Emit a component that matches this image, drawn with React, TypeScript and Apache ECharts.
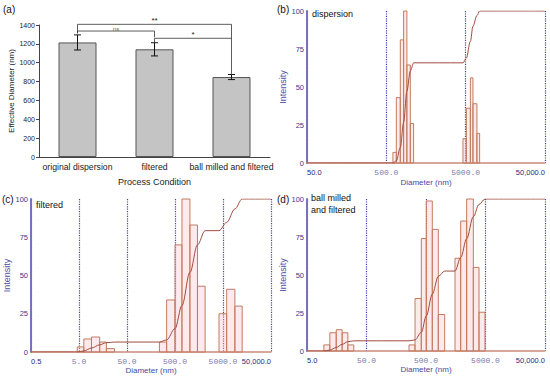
import React, { useEffect, useRef } from 'react';
import * as echarts from 'echarts';

// ---------- Panel (a) ----------
const conditions = ['original dispersion', 'filtered', 'ball milled and filtered'];
const meanDiameter = [1215, 1142, 848];
const diameterError = [80, 70, 27];
const sigFrom = [0, 0, 1];
const sigTo = [2, 1, 2];
const sigLevel = [1407, 1336, 1259];
const sigLegFrom = [1312, 1312, 1212];
const sigLegTo = [870, 1270, 1259];
const sigLabel = ['**', 'ns', '*'];

// ---------- Panel (b) dispersion ----------
const bTickLabels = ['50.0', '500.0', '5000.0', '50,000.0'];
const bBinLeft = [605, 668, 750, 826, 908, 1003, 4624, 5100, 5730, 6180, 6930];
const bBinRight = [668, 750, 826, 908, 1003, 1104, 5100, 5730, 6180, 6930, 7500];
const bIntensity = [7, 43, 81, 100, 64.5, 26, 16, 36, 56, 39, 19.5];
const bCumDiameter = [50, 605, 668, 750, 826, 908, 1003, 1104, 4624, 5100, 5730, 6180, 6930, 7500, 50000];
const bCumValue = [0, 0, 1.4, 10.2, 26.8, 47.3, 60.5, 65.9, 65.9, 69, 80, 90, 97, 100, 100];

// ---------- Panel (c) filtered ----------
const cTickLabels = ['0.5', '5.0', '50.0', '500.0', '5000.0', '50,000.0'];
const cBinLeft = [4.6, 6.3, 9.1, 13.5, 18.6, 237, 335, 500, 698, 1023, 1469, 4130, 5960, 8850];
const cBinRight = [6.3, 9.1, 13.5, 18.6, 27.5, 335, 500, 698, 1023, 1469, 2120, 5960, 8850, 12540];
const cIntensity = [3.3, 8.5, 9.8, 6.5, 2.2, 6.5, 34, 70, 100, 83, 43, 25, 41, 30];
const cCumDiameter = [0.5, 4.6, 6.3, 9.1, 13.5, 18.6, 27.5, 237, 335, 500, 698, 1023, 1469, 2120, 4130, 5960, 8850, 12540, 50000];
const cCumValue = [0, 0, 0.7, 2.6, 4.7, 6.1, 6.5, 6.5, 7.9, 15.3, 30.4, 52, 70, 79.3, 79.3, 84.7, 93.5, 100, 100];

// ---------- Panel (d) ball milled and filtered ----------
const dTickLabels = ['5.0', '50.0', '500.0', '5000.0', '50,000.0'];
const dBinLeft = [9.6, 12.1, 15.5, 19.5, 24.3, 259, 327, 417, 506, 638, 805, 1535, 1915, 2414, 3120, 3890];
const dBinRight = [12.1, 15.5, 19.5, 24.3, 30.6, 327, 417, 506, 638, 805, 1031, 1915, 2414, 3120, 3890, 4910];
const dIntensity = [4, 12, 14, 12, 4, 4, 34.5, 74, 98.7, 80, 24, 61, 85.5, 100, 55, 25.5];
const dCumDiameter = [5, 9.6, 12.1, 15.5, 19.5, 24.3, 30.6, 259, 327, 417, 506, 638, 805, 1031, 1535, 1915, 2414, 3120, 3890, 4910, 50000];
const dCumValue = [0, 0, 0.6, 2.3, 4.4, 6.1, 6.7, 6.7, 7.3, 12.3, 23.1, 37.4, 49.1, 52.6, 52.6, 61.5, 73.9, 88.4, 96.4, 100, 100];

const SANS = 'Liberation Sans, Arial, sans-serif';
const lx = (d: number, base: number) => Math.log10(d / base);

function distXAxis(gridIndex: number, labels: string[], nameGap: number) {
  const n = labels.length - 1;
  return {
    type: 'value',
    gridIndex,
    min: 0,
    max: n,
    interval: 1,
    axisLine: { show: true, onZero: false, lineStyle: { color: '#c98b7a', width: 1.5 } },
    axisTick: { show: false },
    splitLine: { show: true, lineStyle: { color: '#4040b0', type: 'dotted', width: 1.2 } },
    axisLabel: {
      margin: 5,
      showMinLabel: true,
      showMaxLabel: true,
      hideOverlap: false,
      alignMinLabel: 'left',
      alignMaxLabel: 'right',
      formatter: (v: number) => {
        const i = Math.round(v);
        const s = labels[i];
        return i === 0 || i === n ? `{s|${s}}` : `{m|${s}}`;
      },
      rich: {
        s: { fontFamily: 'Liberation Sans Narrow, ' + SANS, fontSize: 7.5, color: '#2b2b7a' },
        m: { fontFamily: 'Liberation Mono, DejaVu Sans Mono, monospace', fontSize: 8, color: '#7a7aa8' },
      },
    },
    name: 'Diameter (nm)',
    nameLocation: 'middle',
    nameGap,
    nameTextStyle: { color: '#4848a0', fontSize: 8, fontFamily: SANS },
  };
}

function distYAxis(gridIndex: number, nameGap: number) {
  return {
    type: 'value',
    gridIndex,
    min: 0,
    max: 100,
    interval: 25,
    axisLine: { show: true, lineStyle: { color: '#7a72b8', width: 2 } },
    axisTick: { show: false },
    splitLine: { show: false },
    axisLabel: { color: '#3a3a8a', fontSize: 7.5, margin: 3, fontFamily: SANS },
    name: 'Intensity',
    nameLocation: 'middle',
    nameGap,
    nameTextStyle: { color: '#5050a8', fontSize: 9, fontFamily: SANS },
  };
}

function histSeries(idx: number, left: number[], right: number[], vals: number[], base: number) {
  return {
    type: 'custom',
    xAxisIndex: idx,
    yAxisIndex: idx,
    data: left.map((l, i) => [lx(l, base), lx(right[i], base), vals[i]]),
    encode: { x: [0, 1], y: 2 },
    z: 3,
    renderItem: (_p: any, api: any) => {
      const p0 = api.coord([api.value(0), api.value(2)]);
      const p1 = api.coord([api.value(1), 0]);
      return {
        type: 'rect',
        shape: { x: p0[0], y: p0[1], width: p1[0] - p0[0], height: p1[1] - p0[1] },
        style: { fill: 'rgba(248,196,204,0.35)', stroke: '#c27b5e', lineWidth: 1 },
      };
    },
  };
}

function cumSeries(idx: number, ds: number[], vs: number[], base: number) {
  return {
    type: 'line',
    xAxisIndex: idx,
    yAxisIndex: idx,
    data: ds.map((d, i) => [lx(d, base), vs[i]]),
    smooth: 0.35,
    smoothMonotone: 'x',
    symbol: 'none',
    showSymbol: false,
    lineStyle: { color: '#a14c3f', width: 1 },
    z: 4,
  };
}

export default function App() {
  const ref = useRef<HTMLDivElement>(null);
  useEffect(() => {
    document.body.style.margin = '0';
    if (!ref.current) return;
    const chart = echarts.init(ref.current, null, { renderer: 'svg' });
    const option: any = {
      animation: false,
      backgroundColor: '#ffffff',
      grid: [
        { left: 39, top: 25, width: 231, height: 132 },
        { left: 307, top: 11, width: 238, height: 152 },
        { left: 31, top: 199, width: 240, height: 153 },
        { left: 307, top: 199, width: 238, height: 152 },
      ],
      xAxis: [
        {
          type: 'category',
          gridIndex: 0,
          data: conditions,
          axisLine: { lineStyle: { color: '#444' } },
          axisTick: { alignWithLabel: true, length: 3, lineStyle: { color: '#444' } },
          axisLabel: { color: '#222', fontSize: 8.7, margin: 5, interval: 0, fontFamily: SANS },
          name: 'Process Condition',
          nameLocation: 'middle',
          nameGap: 20,
          nameTextStyle: { color: '#222', fontSize: 9, fontFamily: SANS },
        },
        distXAxis(1, bTickLabels, 15),
        distXAxis(2, cTickLabels, 14),
        distXAxis(3, dTickLabels, 14),
      ],
      yAxis: [
        {
          type: 'value',
          gridIndex: 0,
          min: 0,
          max: 1400,
          interval: 200,
          axisLine: { show: true, lineStyle: { color: '#444' } },
          axisTick: { show: true, length: 3, lineStyle: { color: '#444' } },
          axisLabel: { color: '#222', fontSize: 7, margin: 4, fontFamily: SANS, formatter: (v: number) => String(v) },
          splitLine: { show: false },
          name: 'Effective Diameter (nm)',
          nameLocation: 'middle',
          nameGap: 23,
          nameTextStyle: { color: '#222', fontSize: 8, fontFamily: SANS },
        },
        distYAxis(1, 19),
        distYAxis(2, 17),
        distYAxis(3, 18.5),
      ],
      series: [
        {
          type: 'bar',
          xAxisIndex: 0,
          yAxisIndex: 0,
          data: meanDiameter,
          barWidth: 38,
          itemStyle: { color: '#c4c4c4', borderColor: '#555', borderWidth: 1 },
        },
        {
          type: 'custom',
          xAxisIndex: 0,
          yAxisIndex: 0,
          data: meanDiameter.map((m, i) => [i, m - diameterError[i], m + diameterError[i]]),
          encode: { x: 0, y: [1, 2] },
          z: 5,
          renderItem: (_p: any, api: any) => {
            const lo = api.coord([api.value(0), api.value(1)]);
            const hi = api.coord([api.value(0), api.value(2)]);
            const w = 3.5;
            const st = { stroke: '#111', lineWidth: 1 };
            return {
              type: 'group',
              children: [
                { type: 'line', shape: { x1: hi[0], y1: hi[1], x2: lo[0], y2: lo[1] }, style: st },
                { type: 'line', shape: { x1: hi[0] - w, y1: hi[1], x2: hi[0] + w, y2: hi[1] }, style: st },
                { type: 'line', shape: { x1: lo[0] - w, y1: lo[1], x2: lo[0] + w, y2: lo[1] }, style: st },
              ],
            };
          },
        },
        {
          type: 'custom',
          xAxisIndex: 0,
          yAxisIndex: 0,
          data: sigFrom.map((f, i) => [f, sigTo[i], sigLevel[i], sigLegFrom[i], sigLegTo[i]]),
          encode: { x: [0, 1], y: [2, 3, 4] },
          z: 6,
          renderItem: (p: any, api: any) => {
            const a = api.coord([api.value(0), api.value(3)]);
            const b = api.coord([api.value(0), api.value(2)]);
            const c = api.coord([api.value(1), api.value(2)]);
            const d = api.coord([api.value(1), api.value(4)]);
            const lab = sigLabel[p.dataIndex];
            const isNs = lab === 'ns';
            return {
              type: 'group',
              children: [
                { type: 'polyline', shape: { points: [a, b, c, d] }, style: { stroke: '#333', lineWidth: 0.8, fill: null } },
                {
                  type: 'text',
                  x: (b[0] + c[0]) / 2,
                  y: b[1] + (isNs ? 1 : 0),
                  style: {
                    text: lab,
                    textAlign: 'center',
                    textVerticalAlign: 'bottom',
                    fontSize: isNs ? 6 : 8,
                    fontFamily: SANS,
                    fill: isNs ? '#666' : '#222',
                  },
                },
              ],
            };
          },
        },
        histSeries(1, bBinLeft, bBinRight, bIntensity, 50),
        cumSeries(1, bCumDiameter, bCumValue, 50),
        histSeries(2, cBinLeft, cBinRight, cIntensity, 0.5),
        cumSeries(2, cCumDiameter, cCumValue, 0.5),
        histSeries(3, dBinLeft, dBinRight, dIntensity, 5),
        cumSeries(3, dCumDiameter, dCumValue, 5),
      ],
      graphic: [
        { type: 'text', left: 3, top: 4, style: { text: '(a)', fontSize: 10, fill: '#111', fontFamily: SANS } },
        { type: 'text', left: 277, top: 4, style: { text: '(b)', fontSize: 10, fill: '#111', fontFamily: SANS } },
        { type: 'text', left: 2, top: 194, style: { text: '(c)', fontSize: 10, fill: '#111', fontFamily: SANS } },
        { type: 'text', left: 277, top: 194, style: { text: '(d)', fontSize: 10, fill: '#111', fontFamily: SANS } },
        { type: 'text', left: 312, top: 9, style: { text: 'dispersion', fontSize: 9, fill: '#111', fontFamily: SANS } },
        { type: 'text', left: 36, top: 200, style: { text: 'filtered', fontSize: 9, fill: '#111', fontFamily: SANS } },
        { type: 'text', left: 311, top: 193, style: { text: 'ball milled', fontSize: 9, fill: '#111', fontFamily: SANS } },
        { type: 'text', left: 311, top: 205, style: { text: 'and filtered', fontSize: 9, fill: '#111', fontFamily: SANS } },
      ],
    };
    chart.setOption(option);
    return () => chart.dispose();
  }, []);
  return <div ref={ref} style={{ width: 550, height: 378 }} />;
}
